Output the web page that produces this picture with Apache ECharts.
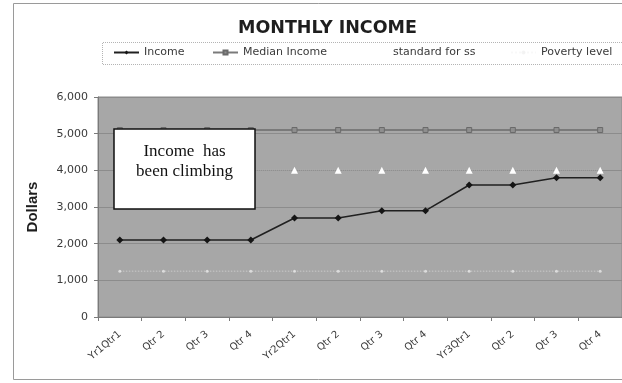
<!DOCTYPE html>
<html>
<head>
<meta charset="utf-8">
<script src="https://cdn.jsdelivr.net/npm/echarts@6/dist/echarts.min.js"></script>
<style>
  html, body { margin: 0; padding: 0; background: #ffffff; }
  #chart { width: 622px; height: 383px; }
</style>
</head>
<body>
<div id="chart"></div>
<script>
// Quarterly periods over three years
const categories = ['Yr1Qtr1', 'Qtr 2', 'Qtr 3', 'Qtr 4', 'Yr2Qtr1', 'Qtr 2', 'Qtr 3', 'Qtr 4', 'Yr3Qtr1', 'Qtr 2', 'Qtr 3', 'Qtr 4'];

// Monthly amounts in dollars
const income = [2100, 2100, 2100, 2100, 2700, 2700, 2900, 2900, 3600, 3600, 3800, 3800];
const medianIncome = [5100, 5100, 5100, 5100, 5100, 5100, 5100, 5100, 5100, 5100, 5100, 5100];
const standardForSS = [4000, 4000, 4000, 4000, 4000, 4000, 4000, 4000, 4000, 4000, 4000, 4000];
const povertyLevel = [1250, 1250, 1250, 1250, 1250, 1250, 1250, 1250, 1250, 1250, 1250, 1250];

const yTicks = [0, 1000, 2000, 3000, 4000, 5000, 6000];

const seriesNames = ['Income', 'Median Income', 'standard for ss', 'Poverty level'];
const legendLeft = [113, 212, 362, 510];

const fmt = v => v.toLocaleString('en-US');

const chart = echarts.init(document.getElementById('chart'), null, { renderer: 'canvas' });

const legendText = { fontFamily: 'DejaVu Sans', fontSize: 11, color: '#3a3a3a' };

chart.setOption({
  animation: false,
  backgroundColor: '#ffffff',
  title: {
    text: 'MONTHLY INCOME',
    left: 233,
    top: 14,
    textStyle: { fontFamily: 'DejaVu Sans', fontWeight: 'bold', fontSize: 17.5, color: '#1e1e1e' }
  },
  legend: seriesNames.map((name, i) => ({
    data: [name],
    left: legendLeft[i],
    top: 47,
    itemWidth: 25,
    itemHeight: 5,
    itemGap: 0,
    padding: 0,
    textStyle: legendText
  })),
  grid: { left: 98, right: -3, top: 97, bottom: 66, show: true, backgroundColor: '#a7a7a7', borderColor: '#8a8a8a', borderWidth: 1 },
  xAxis: {
    type: 'category',
    data: categories,
    boundaryGap: true,
    axisLine: { lineStyle: { color: '#7a7a7a', width: 1 } },
    axisTick: { show: true, alignWithLabel: false, length: 4, lineStyle: { color: '#7a7a7a' } },
    axisLabel: { rotate: 40, margin: 16, fontFamily: 'DejaVu Sans', fontSize: 10, color: '#3a3a3a', interval: 0 }
  },
  yAxis: {
    type: 'value',
    min: yTicks[0],
    max: yTicks[yTicks.length - 1],
    interval: yTicks[1] - yTicks[0],
    name: 'Dollars',
    nameLocation: 'middle',
    nameGap: 58,
    nameTextStyle: { fontFamily: 'Liberation Sans', fontWeight: 'bold', fontSize: 15, color: '#1e1e1e' },
    axisLine: { show: true, lineStyle: { color: '#7a7a7a' } },
    axisTick: { show: true, length: 4, lineStyle: { color: '#7a7a7a' } },
    axisLabel: { margin: 10, fontFamily: 'DejaVu Sans', fontSize: 11, color: '#3a3a3a', formatter: fmt },
    splitLine: { show: true, lineStyle: { color: '#8c8c8c', width: 1 } }
  },
  series: [
    {
      name: seriesNames[0], type: 'line', data: income,
      symbol: 'diamond', symbolSize: 7,
      itemStyle: { color: '#151515' },
      lineStyle: { color: '#202020', width: 1.5 },
      z: 5
    },
    {
      name: seriesNames[1], type: 'line', data: medianIncome,
      symbol: 'rect', symbolSize: 5,
      itemStyle: { color: '#8e8e8e', borderColor: '#6a6a6a', borderWidth: 1 },
      lineStyle: { color: '#7a7a7a', width: 2 },
      z: 4
    },
    {
      name: seriesNames[2], type: 'line', data: standardForSS,
      symbol: 'triangle', symbolSize: 7,
      itemStyle: { color: '#ffffff' },
      lineStyle: { color: 'rgba(255,255,255,0.25)', width: 1, type: 'dotted' },
      z: 3
    },
    {
      name: seriesNames[3], type: 'line', data: povertyLevel,
      symbol: 'circle', symbolSize: 3,
      itemStyle: { color: 'rgba(240,240,240,0.7)' },
      lineStyle: { color: 'rgba(235,235,235,0.35)', width: 1.5, type: 'dotted' },
      z: 3
    }
  ],
  graphic: [
    // outer chart frame (open on the right, where the chart runs past the edge)
    { type: 'polyline', shape: { points: [[660, 3.5], [13.5, 3.5], [13.5, 379.5], [660, 379.5]] }, style: { fill: 'none', stroke: '#9a9a9a', lineWidth: 1 }, silent: true, z: -1 },
    // legend frame
    { type: 'polyline', shape: { points: [[660, 42.5], [102.5, 42.5], [102.5, 64.5], [660, 64.5]] }, style: { fill: 'none', stroke: '#b4b4b4', lineWidth: 1, lineDash: [1, 1] }, silent: true, z: -1 },
    // note box
    { type: 'rect', z: 100, shape: { x: 114, y: 129, width: 141, height: 80 }, style: { fill: '#ffffff', stroke: '#111111', lineWidth: 1.5 } },
    { type: 'text', z: 101, x: 184.5, y: 152, style: { text: 'Income  has', textAlign: 'center', textVerticalAlign: 'middle', font: '17px "Liberation Serif"', fill: '#111111' } },
    { type: 'text', z: 101, x: 184.5, y: 172, style: { text: 'been climbing', textAlign: 'center', textVerticalAlign: 'middle', font: '17px "Liberation Serif"', fill: '#111111' } }
  ]
});
</script>
</body>
</html>
